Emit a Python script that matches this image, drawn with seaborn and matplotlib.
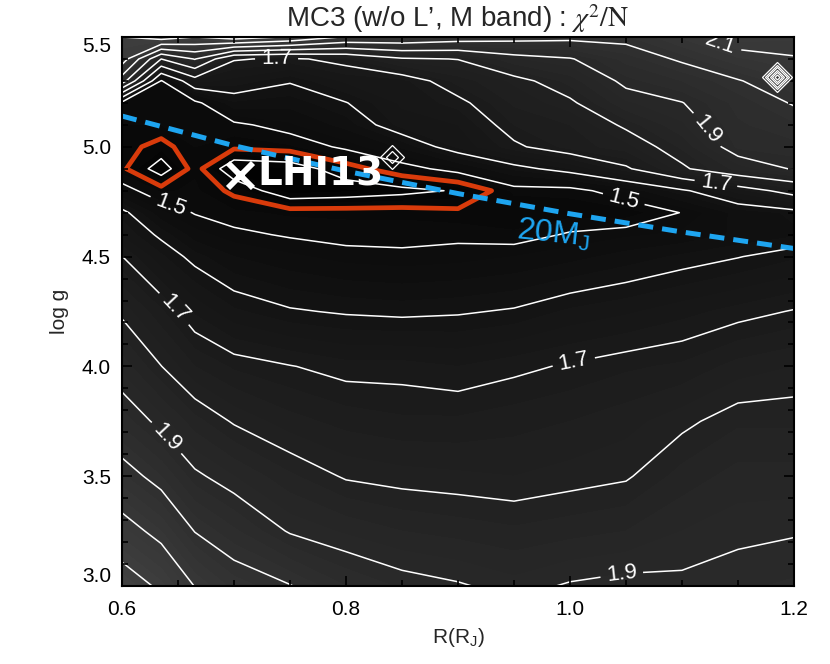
import numpy as np
import matplotlib
matplotlib.use("Agg")
import matplotlib.pyplot as plt
from matplotlib.ticker import MultipleLocator, FormatStrFormatter
import seaborn as sns

# grid: R in R_J (columns), log g (rows)
radius = [0.600, 0.635, 0.665, 0.70, 0.75, 0.80, 0.85, 0.90, 0.95, 1.00, 1.05, 1.10, 1.15, 1.20]
logg = [3.00, 3.25, 3.50, 3.75, 4.00, 4.25, 4.50, 4.60, 4.70, 4.80, 4.90, 5.00, 5.10, 5.20, 5.30, 5.40, 5.50]

# chi2/N, one column per radius, from log g = 3.0 up to 5.5
chi2_r0600 = [2.25, 2.135, 2.03, 1.94, 1.865, 1.79, 1.701, 1.645, 1.615, 1.52, 1.46, 1.465, 1.475, 1.48, 1.95, 2.15, 2.2]
chi2_r0635 = [2.185, 2.075, 1.975, 1.885, 1.801, 1.73, 1.63, 1.59, 1.53, 1.47, 1.37, 1.435, 1.475, 1.475, 1.495, 1.8, 2.25]
chi2_r0665 = [2.098, 1.998, 1.91, 1.835, 1.75, 1.67, 1.585, 1.535, 1.497, 1.48, 1.47, 1.475, 1.475, 1.485, 1.66, 1.905, 2.2]
chi2_r0700 = [2.04, 1.955, 1.875, 1.795, 1.72, 1.63, 1.55, 1.51, 1.48, 1.44, 1.36, 1.46, 1.49, 1.57, 1.64, 1.705, 2.25]
chi2_r0750 = [2.003, 1.895, 1.83, 1.76, 1.702, 1.605, 1.53, 1.495, 1.47, 1.36, 1.37, 1.47, 1.52, 1.56, 1.605, 1.69, 2.19]
chi2_r0800 = [1.95, 1.87, 1.795, 1.74, 1.685, 1.595, 1.515, 1.485, 1.47, 1.37, 1.43, 1.51, 1.56, 1.598, 1.655, 1.72, 2.09]
chi2_r0850 = [1.92, 1.85, 1.785, 1.73, 1.685, 1.59, 1.51, 1.485, 1.47, 1.385, 1.48, 1.555, 1.635, 1.655, 1.665, 1.79, 2.08]
chi2_r0900 = [1.905, 1.84, 1.78, 1.73, 1.675, 1.595, 1.515, 1.49, 1.46, 1.405, 1.52, 1.63, 1.65, 1.685, 1.735, 1.802, 2.05]
chi2_r0950 = [1.885, 1.83, 1.775, 1.74, 1.69, 1.605, 1.525, 1.48, 1.455, 1.48, 1.58, 1.69, 1.725, 1.755, 1.78, 1.87, 2.03]
chi2_r1000 = [1.905, 1.84, 1.785, 1.75, 1.705, 1.63, 1.54, 1.505, 1.465, 1.48, 1.625, 1.735, 1.75, 1.79, 1.835, 1.895, 2.02]
chi2_r1050 = [1.915, 1.85, 1.795, 1.765, 1.72, 1.645, 1.56, 1.52, 1.46, 1.53, 1.69, 1.765, 1.81, 1.87, 1.915, 1.96, 2.02]
chi2_r1100 = [1.91, 1.875, 1.835, 1.79, 1.73, 1.665, 1.58, 1.53, 1.502, 1.59, 1.79, 1.83, 1.87, 1.898, 1.95, 2.01, 2.08]
chi2_r1150 = [1.92, 1.89, 1.86, 1.82, 1.76, 1.685, 1.598, 1.555, 1.56, 1.66, 1.86, 1.93, 1.945, 1.96, 1.995, 2.07, 2.14]
chi2_r1200 = [1.93, 1.896, 1.86, 1.82, 1.775, 1.703, 1.62, 1.57, 1.58, 1.73, 1.905, 1.94, 1.97, 2.005, 2.05, 2.095, 2.13]

# isolated spikes in the grid (drawn as concentric diamonds)
spike_r = [0.841, 1.185]
spike_logg = [4.955, 5.32]
spike_rings = [2, 6]

# 20 M_J track
mass_r = [0.60, 0.70, 0.80, 0.90, 1.00, 1.10, 1.20]
mass_logg = [5.140, 5.005, 4.889, 4.787, 4.695, 4.612, 4.537]

# best fit object
lhi_r = 0.705
lhi_logg = 4.873

red_level = 1.45

chi2 = np.array([chi2_r0600, chi2_r0635, chi2_r0665, chi2_r0700, chi2_r0750,
                 chi2_r0800, chi2_r0850, chi2_r0900, chi2_r0950, chi2_r1000,
                 chi2_r1050, chi2_r1100, chi2_r1150, chi2_r1200]).T

sns.set_theme(style="ticks")
plt.rcParams["font.family"] = ["Liberation Sans", "DejaVu Sans"]
plt.rcParams["mathtext.fontset"] = "custom"
plt.rcParams["mathtext.rm"] = "Liberation Sans"
plt.rcParams["mathtext.it"] = "Liberation Sans:italic"
plt.rcParams["mathtext.bf"] = "Liberation Sans:bold"

blue = "#1ea5f0"
red = "#d93b0b"

fig = plt.figure(figsize=(8.3, 6.64), dpi=100)
ax = fig.add_axes([122 / 830, 1 - 586 / 664, 672 / 830, 549 / 664])
ax.set_axisbelow(False)  # ticks point inward, keep them above the fill

# filled background
ax.contourf(radius, logg, chi2, levels=np.arange(1.30, 2.65, 0.025),
            cmap="gray", vmin=1.33, vmax=4.9, extend="both")

# white contour lines; every other level carries a label
plain_levels = [1.4, 1.6, 1.8, 2.0, 2.2, 2.4]
label_levels = [1.5, 1.7, 1.9, 2.1, 2.3]
ax.contour(radius, logg, chi2, levels=plain_levels, colors="white",
           linewidths=1.1)
labelled = ax.contour(radius, logg, chi2, levels=label_levels, colors="white",
                      linewidths=1.1)
label_spots = [(0.738, 5.41), (1.134, 5.46), (1.128, 5.10), (1.131, 4.86),
               (1.049, 4.78), (0.645, 4.76), (0.652, 4.29), (1.003, 4.03),
               (0.641, 3.68), (1.046, 3.06)]
ax.clabel(labelled, manual=label_spots, fmt="%.1f", fontsize=16,
          colors="white", inline=True, inline_spacing=6)

# red confidence contour
ax.contour(radius, logg, chi2, levels=[red_level], colors=red, linewidths=3.4)

# spikes
for r, g, n in zip(spike_r, spike_logg, spike_rings):
    outer = 12 if n < 4 else 15
    for size in np.linspace(outer / n, outer, n):
        ax.plot(r, g, marker="D", ms=size, mfc="none", mec="white", mew=0.9,
                zorder=4)

# 20 M_J line
sns.lineplot(x=mass_r, y=mass_logg, ax=ax, color=blue, linewidth=3.6,
             linestyle=(0, (3, 1.8)), sort=False, estimator=None, zorder=5)
ax.text(0.985, 4.60, "20M$_\\mathrm{J}$", color=blue, fontsize=23,
        rotation=-6, ha="center", va="center", zorder=5)

# LHI13 marker
ax.plot(lhi_r, lhi_logg, marker="x", ms=18, mew=4.2, color="white", zorder=6)
ax.annotate("LHI13", (lhi_r, lhi_logg), xytext=(13, 0),
            textcoords="offset points", color="white", fontsize=28,
            fontweight="bold", family="DejaVu Sans", ha="left", va="center",
            zorder=6)

ax.set_xlim(0.6, 1.2)
ax.set_ylim(3.0, 5.5)
ax.xaxis.set_major_locator(MultipleLocator(0.2))
ax.xaxis.set_minor_locator(MultipleLocator(0.05))
ax.yaxis.set_major_locator(MultipleLocator(0.5))
ax.yaxis.set_minor_locator(MultipleLocator(0.1))
ax.xaxis.set_major_formatter(FormatStrFormatter("%.1f"))
ax.yaxis.set_major_formatter(FormatStrFormatter("%.1f"))
ax.tick_params(which="both", direction="in", top=True, right=True,
               colors="black", labelsize=15, width=1.2)
ax.tick_params(which="major", length=7.5)
ax.tick_params(which="minor", length=4.5)
ax.tick_params(axis="x", pad=10)
ax.tick_params(axis="y", pad=8)
for spine in ax.spines.values():
    spine.set_linewidth(1.5)
    spine.set_color("black")
    spine.set_zorder(10)

ax.set_xlabel("R(R$_\\mathrm{J}$)", fontsize=15, labelpad=5)
ax.set_ylabel("log g", fontsize=15, labelpad=9)
ax.set_title("MC3 (w/o L\u2019, M band) : $\\chi^2/\\mathrm{N}$", fontsize=20,
             pad=7, math_fontfamily="stix")

# end labels of the y axis sit inside the frame
fig.canvas.draw()
for lab in ax.get_yticklabels():
    if lab.get_text() == "3.0":
        lab.set_va("bottom")
    elif lab.get_text() == "5.5":
        lab.set_va("top")

fig.savefig("out.png", dpi=100)
